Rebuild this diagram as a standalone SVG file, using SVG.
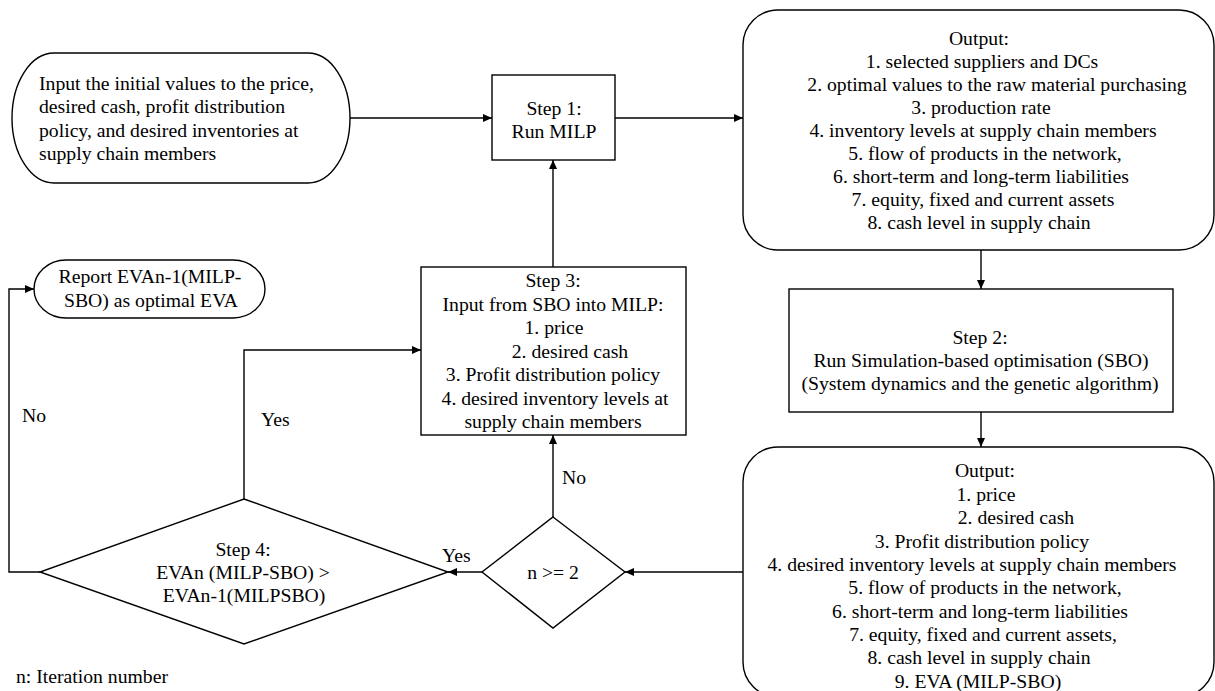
<svg xmlns="http://www.w3.org/2000/svg" width="1215" height="691" viewBox="0 0 1215 691">
<style>
  .shape { fill: #ffffff; stroke: #000000; stroke-width: 1.4; }
  .conn { fill: none; stroke: #000000; stroke-width: 1.4; }
  text { font-family: "Liberation Serif", "Times New Roman", serif; font-size: 19.7px; fill: #000000; }
  .c { text-anchor: middle; }
</style>
<defs>
  <marker id="arrow" markerUnits="userSpaceOnUse" markerWidth="9" markerHeight="8" refX="9" refY="4" orient="auto">
    <path d="M0,0 L9,4 L0,8 z" fill="#000000"/>
  </marker>
</defs>
<rect width="1215" height="691" fill="#ffffff"/>

<g id="connectors">
  <line class="conn" x1="350" y1="118" x2="492" y2="118" marker-end="url(#arrow)"/>
  <line class="conn" x1="615" y1="118" x2="743" y2="118" marker-end="url(#arrow)"/>
  <line class="conn" x1="981" y1="250" x2="981" y2="289" marker-end="url(#arrow)"/>
  <line class="conn" x1="981" y1="412" x2="981" y2="447" marker-end="url(#arrow)"/>
  <line class="conn" x1="743" y1="572" x2="625" y2="572" marker-end="url(#arrow)"/>
  <line class="conn" x1="482" y1="572" x2="448" y2="572" marker-end="url(#arrow)"/>
  <line class="conn" x1="553" y1="517" x2="553" y2="435" marker-end="url(#arrow)"/>
  <line class="conn" x1="553" y1="267" x2="553" y2="160" marker-end="url(#arrow)"/>
  <polyline class="conn" points="244,499 244,350 421,350" marker-end="url(#arrow)"/>
  <polyline class="conn" points="40,572 9,572 9,289 34,289" marker-end="url(#arrow)"/>
  <text x="442" y="562">Yes</text>
  <text x="562" y="484">No</text>
  <text x="261" y="426">Yes</text>
  <text x="22" y="422">No</text>
</g>

<g id="input">
  <rect class="shape" x="12" y="53" width="338" height="130" rx="42" ry="65"/>
  <text x="39" y="90">Input the initial values to the price,</text>
  <text x="39" y="113.3">desired cash, profit distribution</text>
  <text x="39" y="136.6">policy, and desired inventories at</text>
  <text x="39" y="160">supply chain members</text>
</g>

<g id="step1">
  <rect class="shape" x="492" y="75" width="123" height="85"/>
  <text class="c" x="554" y="115">Step 1:</text>
  <text class="c" x="554" y="138">Run MILP</text>
</g>

<g id="output1">
  <rect class="shape" x="743" y="10" width="471" height="240" rx="35" ry="35"/>
  <text class="c" x="979" y="45">Output:</text>
  <text class="c" x="982" y="68">1. selected suppliers and DCs</text>
  <text class="c" x="997" y="91">2. optimal values to the raw material purchasing</text>
  <text class="c" x="981" y="114">3. production rate</text>
  <text class="c" x="983" y="137">4. inventory levels at supply chain members</text>
  <text class="c" x="985" y="160">5. flow of products in the network,</text>
  <text class="c" x="981" y="183">6. short-term and long-term liabilities</text>
  <text class="c" x="983" y="206">7. equity, fixed and current assets</text>
  <text class="c" x="979" y="229">8. cash level in supply chain</text>
</g>

<g id="step2">
  <rect class="shape" x="789" y="289" width="384" height="123"/>
  <text class="c" x="980" y="344">Step 2:</text>
  <text class="c" x="981" y="367">Run Simulation-based optimisation (SBO)</text>
  <text class="c" x="980" y="390">(System dynamics and the genetic algorithm)</text>
</g>

<g id="output2">
  <rect class="shape" x="743" y="447" width="471" height="250" rx="35" ry="35"/>
  <text class="c" x="985" y="477">Output:</text>
  <text class="c" x="986" y="501">1. price</text>
  <text class="c" x="1016" y="524">2. desired cash</text>
  <text class="c" x="982" y="548">3. Profit distribution policy</text>
  <text class="c" x="972" y="571">4. desired inventory levels at supply chain members</text>
  <text class="c" x="985" y="594">5. flow of products in the network,</text>
  <text class="c" x="980" y="618">6. short-term and long-term liabilities</text>
  <text class="c" x="983" y="641">7. equity, fixed and current assets,</text>
  <text class="c" x="979" y="664">8. cash level in supply chain</text>
  <text class="c" x="978" y="688">9. EVA (MILP-SBO)</text>
</g>

<g id="step3">
  <rect class="shape" x="421" y="267" width="265" height="168"/>
  <text class="c" x="553" y="287">Step 3:</text>
  <text class="c" x="553" y="311">Input from SBO into MILP:</text>
  <text class="c" x="554" y="334">1. price</text>
  <text class="c" x="570" y="358">2. desired cash</text>
  <text class="c" x="553" y="381">3. Profit distribution policy</text>
  <text class="c" x="555" y="405">4. desired inventory levels at</text>
  <text class="c" x="553" y="428">supply chain members</text>
</g>

<g id="report">
  <rect class="shape" x="34" y="260" width="231" height="58" rx="32" ry="29"/>
  <text class="c" x="150" y="283">Report EVAn-1(MILP-</text>
  <text class="c" x="151" y="307">SBO) as optimal EVA</text>
</g>

<g id="step4">
  <polygon class="shape" points="244,499 448,572 244,644 40,572"/>
  <text class="c" x="243" y="556">Step 4:</text>
  <text class="c" x="243" y="579">EVAn (MILP-SBO) &gt;</text>
  <text class="c" x="244" y="602">EVAn-1(MILPSBO)</text>
</g>

<g id="decision">
  <polygon class="shape" points="553,517 625,572 553,628 482,572"/>
  <text class="c" x="553" y="579">n &gt;= 2</text>
</g>

<g id="note">
  <text x="16" y="683">n: Iteration number</text>
</g>
</svg>
